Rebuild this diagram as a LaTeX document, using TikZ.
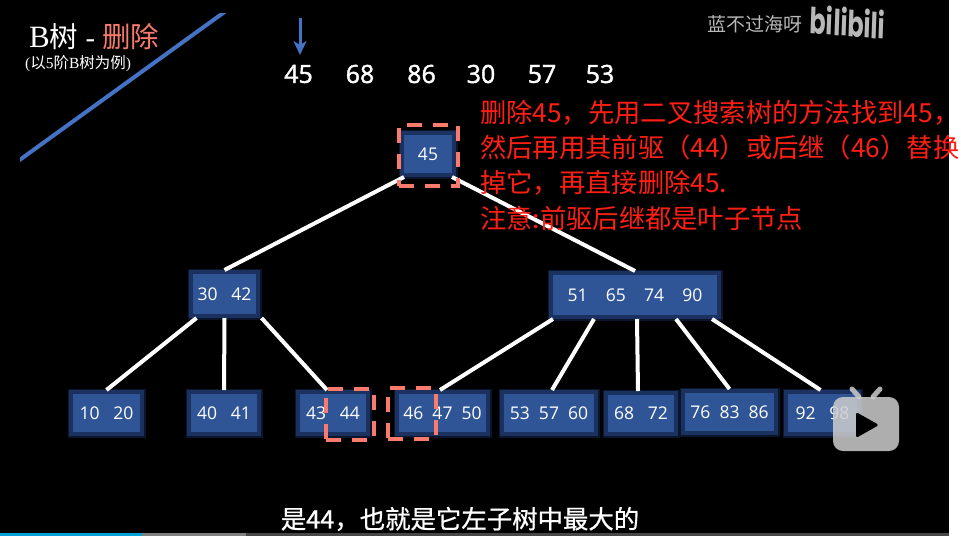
\documentclass[tikz,border=0pt]{standalone}
\usepackage{fontspec}
\setmainfont{Noto Sans CJK SC}
\newfontfamily\numfont{Open Sans}
\newfontfamily\boldnum[FakeBold=1.6]{Open Sans}
\newfontfamily\capfont[FakeBold=0.8]{Noto Sans CJK SC}
\newfontfamily\titlefont{Liberation Serif}
\newfontfamily\logofont{Poppins}
\usetikzlibrary{arrows.meta,positioning,calc}
\definecolor{keyblue}{RGB}{47,85,151}
\definecolor{glowblue}{RGB}{27,50,96}
\definecolor{halo}{RGB}{11,22,44}
\definecolor{slideblue}{RGB}{68,114,196}
\definecolor{salmon}{RGB}{250,122,110}
\definecolor{notered}{RGB}{255,30,20}
\definecolor{marklight}{RGB}{184,184,184}
\definecolor{tvgrey}{RGB}{205,205,205}
\definecolor{barcyan}{RGB}{0,161,214}
\tikzset{
  keynode/.style={preaction={draw=halo,line width=7pt},draw=glowblue,line width=4pt,fill=keyblue,text=white,inner sep=0pt,minimum width=70pt,minimum height=42pt,font=\numfont\fontsize{17.5}{20}\selectfont},
  leafnode/.style={keynode},
  edge/.style={draw=white,line width=4pt},
  hole/.style={draw=salmon,line width=4pt,dash pattern=on 15pt off 11pt,inner sep=0pt},
  seqnum/.style={text=white,inner sep=0pt,font=\boldnum\fontsize{25}{28}\selectfont},
  pointer/.style={-{Stealth[length=14pt,width=13pt,inset=4pt]},draw=slideblue,line width=3pt},
  noteline/.style={anchor=west,text=notered,inner sep=0pt,font=\fontsize{26.3}{30}\selectfont}
}
\begin{document}
\begin{tikzpicture}[x=1pt,y=-1pt]
\useasboundingbox (0,0) rectangle (961,536);
\fill[white] (0,0) rectangle (961,536);
\fill[black] (0,0) rectangle (949,533);
\fill[black!72] (0,533) rectangle (949,536);
\fill[black!50] (0,533) rectangle (246,536);
\fill[barcyan] (0,533) rectangle (142,536);

\begin{scope}
\clip (20,13) rectangle (240,170);
\coordinate (slashlow) at (14,164);
\coordinate (slashhigh) at (230,8);
\draw[draw=slideblue,line width=4pt] (slashlow) -- (slashhigh);
\end{scope}

\node[anchor=west,text=white,inner sep=0pt] (title) at (29,37) {\titlefont\fontsize{31}{32}\selectfont B\fontsize{28.5}{32}\selectfont\rmfamily 树\titlefont\ - \textcolor{salmon}{\rmfamily 删除}};
\node[anchor=west,text=white,inner sep=0pt] (subtitle) at (25,64) {\fontsize{15.5}{18}\selectfont\titlefont (\rmfamily 以\titlefont 5\rmfamily 阶\titlefont B\rmfamily 树为例\titlefont )};

\node[seqnum] (s45) at (298.5,74) {45};
\node[seqnum] (s68) at (360,74) {68};
\node[seqnum] (s86) at (421.5,74) {86};
\node[seqnum] (s30) at (481,74) {30};
\node[seqnum] (s57) at (542,74) {57};
\node[seqnum] (s53) at (600,74) {53};
\coordinate (cursor) at (300,18);
\draw[pointer] (cursor) -- (cursor |- 0,55);

\node[keynode,minimum width=52pt,minimum height=42pt] (root) at (428,154) {45};
\node[keynode,minimum width=67pt,minimum height=44pt] (n30) at (224.5,294) {30~~~42};
\node[keynode,minimum width=168pt,minimum height=44pt] (n51) at (635,295) {51~~~~65~~~~74~~~~90};
\node[leafnode,minimum width=71pt] (n10) at (106.5,413) {10~~~20};
\node[leafnode,minimum width=70pt] (n40) at (224,413) {40~~~41};
\node[leafnode,minimum width=70pt] (n43) at (333,413) {43~~~44};
\node[leafnode,minimum width=91pt] (n46) at (442.5,413) {46~~47~~50};
\node[leafnode,minimum width=94pt] (n53) at (549,413) {53~~57~~60};
\node[leafnode,minimum width=70pt,minimum height=41pt] (n68) at (641,413.5) {68~~~72};
\node[leafnode,minimum width=93pt] (n76) at (729.5,412) {76~~83~~86};
\node[leafnode,minimum width=73pt] (n92) at (822.5,413) {92~~~98};

\draw[edge] ([xshift=-24pt]root.south) -- (n30.north);
\draw[edge] ([xshift=24pt]root.south) -- (n51.north);
\draw[edge] ([xshift=-28pt]n30.south) -- (n10.north);
\draw[edge] (n30.south) -- (n40.north);
\draw[edge] ([xshift=37pt]n30.south) -- ([xshift=-6pt]n43.north);
\draw[edge] ([xshift=-82pt]n51.south) -- ([xshift=-2.5pt]n46.north);
\draw[edge] ([xshift=-41pt]n51.south) -- ([xshift=3pt]n53.north);
\draw[edge] ([xshift=2pt]n51.south) -- ([xshift=-3pt]n68.north);
\draw[edge] ([xshift=41pt]n51.south) -- (n76.north);
\draw[edge] ([xshift=77pt]n51.south) -- ([xshift=-2pt]n92.north);

\node[hole,minimum width=59pt,minimum height=61pt] (holeroot) at (428.5,155.5) {};
\node[hole,minimum width=48pt,minimum height=51pt] (hole44) at (350,414.5) {};
\node[hole,minimum width=48pt,minimum height=51pt] (hole46) at (412,413.5) {};

\node[noteline] (line1) at (480,113) {删除45，先用二叉搜索树的方法找到45，};
\node[noteline] (line2) at (480,148) {然后再用其前驱（44）或后继（46）替换};
\node[noteline] (line3) at (480,183) {掉它，再直接删除45.};
\node[noteline] (line4) at (480,218) {注意:前驱后继都是叶子节点};

\node[anchor=west,text=marklight,inner sep=0pt,font=\fontsize{19}{22}\selectfont] (uploader) at (707,24) {蓝不过海呀};
\node[anchor=west,text=marklight,inner sep=0pt,transform shape,xscale=0.8,yscale=1.2,rotate=-3,font=\logofont\bfseries\fontsize{30}{32}\selectfont] (logo) at (810,19) {bilibili};

\node[text=white,inner sep=0pt,font=\capfont\fontsize{25.4}{28}\selectfont] (caption) at (460,519) {是44，也就是它左子树中最大的};

\begin{scope}[opacity=0.85]
\coordinate (tvleft) at (852,389);
\coordinate (tvright) at (880,389);
\node[fill=tvgrey,rounded corners=10pt,inner sep=0pt,minimum width=66pt,minimum height=54pt] (tv) at (866,424) {};
\draw[draw=tvgrey,line width=5pt,line cap=round] (tvleft) -- ([xshift=-7pt]tv.north);
\draw[draw=tvgrey,line width=5pt,line cap=round] (tvright) -- ([xshift=7pt]tv.north);
\end{scope}
\fill[black,rounded corners=2.5pt] (856,412) -- (879,425) -- (856,438) -- cycle;
\end{tikzpicture}
\end{document}
